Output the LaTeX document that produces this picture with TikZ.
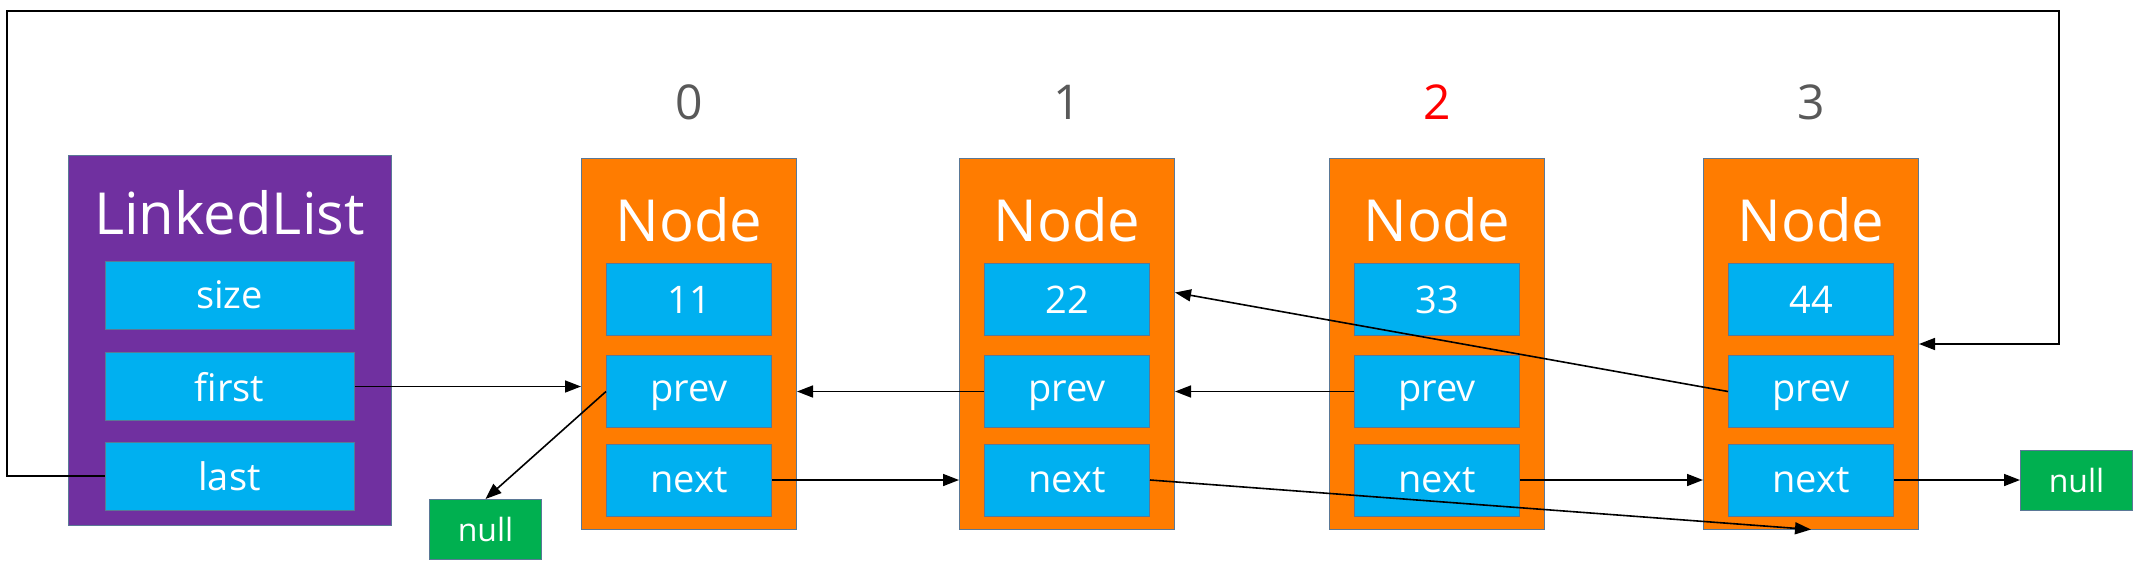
\documentclass[tikz,border=0pt]{standalone}
\usepackage{fontspec}
\setmainfont{Open Sans}
\usetikzlibrary{arrows.meta,calc}
\definecolor{orng}{HTML}{FF7C00}
\definecolor{purp}{HTML}{7030A0}
\definecolor{blu}{HTML}{00B0F0}
\definecolor{grn}{HTML}{00B050}
\definecolor{bordc}{HTML}{5A7896}
\definecolor{idxgray}{HTML}{595959}
\definecolor{idxred}{HTML}{FF0000}
\begin{document}
\begin{tikzpicture}[x=1pt,y=-1pt,
  box/.style={draw=bordc, line width=1pt, inner sep=0pt, text=white, text depth=0pt},
  fld/.style={box, fill=blu, minimum width=165pt, minimum height=72pt, font=\fontsize{38}{40}\selectfont},
  llfld/.style={box, fill=blu, minimum width=249pt, minimum height=68pt, font=\fontsize{38}{40}\selectfont},
  nodebox/.style={box, fill=orng, minimum width=215pt, minimum height=371pt},
  llbox/.style={box, fill=purp, minimum width=323pt, minimum height=370pt},
  title/.style={inner sep=0pt, text=white, text depth=0pt, font=\fontsize{58}{60}\selectfont},
  idx/.style={inner sep=0pt, text=idxgray, text depth=0pt, font=\fontsize{48}{50}\selectfont},
  nullbox/.style={box, fill=grn, minimum width=112pt, minimum height=60pt, font=\fontsize{32}{34}\selectfont},
  conn/.style={draw=black, line width=1.6pt, -{Triangle[length=16pt,width=12pt]}}
]
\useasboundingbox (0,0) rectangle (2138,566);

% LinkedList
\node[llbox] (ll) at (229.5,340) {};
\node[title] (llt) at (229.5,212.5) {LinkedList};
\node[llfld] (s) at (229.5,295) {size};
\node[llfld] (f) at (229.5,386.5) {first};
\node[llfld] (l) at (229.5,476) {last};

% Nodes
\foreach \i/\x/\v in {0/689/11,1/1067/22,2/1437/33,3/1811/44}{
  \node[nodebox] (n\i) at (\x,343.5) {};
  \node[title] (t\i) at (\x,219) {Node};
  \node[fld] (v\i) at (\x,299.5) {\v};
  \node[fld] (p\i) at (\x,391.5) {prev};
  \node[fld] (x\i) at (\x,480) {next};
}
\node[idx] (i0) at (689,102) {0};
\node[idx] (i1) at (1067,102) {1};
\node[idx, text=idxred] (i2) at (1437,102) {2};
\node[idx] (i3) at (1811,102) {3};

% nulls
\node[nullbox] (nl) at (485.5,529.5) {null};
\node[nullbox] (nr) at (2076.5,480) {null};

% connectors
\draw[conn] (f.east) -- (f.east -| n0.west);
\draw[conn] (p0.west) -- (nl.north);
\draw[conn] (p1.west) -- (p1.west -| n0.east);
\draw[conn] (p2.west) -- (p2.west -| n1.east);
\coordinate (t22) at ($(n1.east |- v1.center)+(0,-7)$);
\draw[conn] (p3.west) -- (t22);
\draw[conn] (x0.east) -- (x0.east -| n1.west);
\draw[conn] (x1.east) -- (n3.south);
\draw[conn] (x2.east) -- (x2.east -| n3.west);
\draw[conn] (x3.east) -- (nr.west);
\coordinate (c1) at (7,11);
\coordinate (c2) at (2059,344);
\coordinate (t3) at (n3.east |- c2);
\draw[conn] (l.west) -| (c1) -| (c2) -- (t3);
\end{tikzpicture}
\end{document}
